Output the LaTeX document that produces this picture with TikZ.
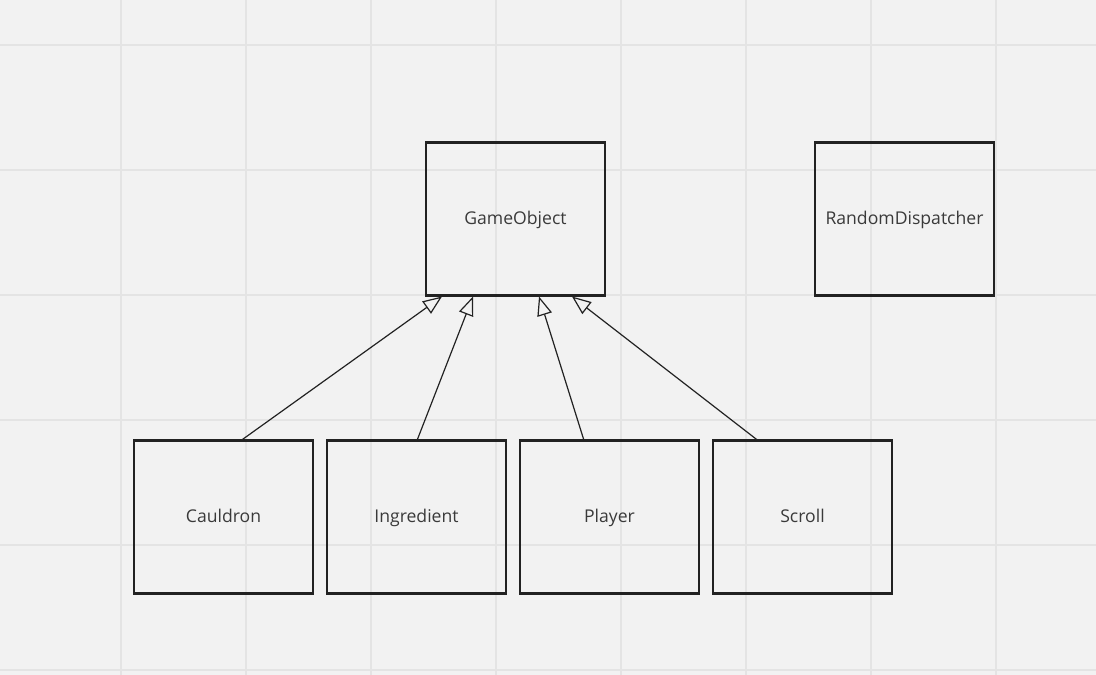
\documentclass[tikz,border=0pt]{standalone}
\usepackage{fontspec}
\setmainfont{Open Sans}
\usetikzlibrary{arrows.meta}
\definecolor{bg}{HTML}{F2F2F2}
\definecolor{gridc}{HTML}{E4E4E4}
\definecolor{boxc}{HTML}{222222}
\definecolor{txt}{HTML}{3A3A3A}
\tikzset{
  cls/.style={draw=boxc, line width=2.7pt, minimum width=179pt, minimum height=153pt, inner sep=0pt, outer sep=0pt, text=txt, font=\fontsize{17.6}{20}\selectfont, text height=10.5pt, text depth=0pt, anchor=north west},
  inh/.style={draw=boxc, line width=1.2pt, -{Triangle[open, length=19pt, width=15pt, fill=bg]}},
  gridl/.style={draw=gridc, line width=1.8pt}
}
\begin{document}
\begin{tikzpicture}[x=1pt,y=-1pt]
\fill[bg] (0,0) rectangle (1096,675);
\useasboundingbox (0,0) rectangle (1096,675);
\foreach \gx in {121,246,371,496,621,746,871,996} \draw[gridl] (\gx,0) -- (\gx,675);
\foreach \gy in {45,170,295,420,545,670} \draw[gridl] (0,\gy) -- (1096,\gy);

\node[cls] (go) at (426,142.5) {GameObject};
\node[cls] (rd) at (815,142.5) {RandomDispatcher};
\node[cls] (cauldron) at (134,440.5) {Cauldron};
\node[cls] (ingredient) at (327,440.5) {Ingredient};
\node[cls] (player) at (520,440.5) {Player};
\node[cls] (scroll) at (713,440.5) {Scroll};

\draw[inh] ([xshift=107pt]cauldron.north west) -- ([xshift=16pt,yshift=-1pt]go.south west);
\draw[inh] ([xshift=90pt]ingredient.north west) -- ([xshift=47pt,yshift=-1pt]go.south west);
\draw[inh] ([xshift=64pt]player.north west) -- ([xshift=113pt,yshift=-1pt]go.south west);
\draw[inh] ([xshift=45pt]scroll.north west) -- ([xshift=146pt,yshift=-1pt]go.south west);
\end{tikzpicture}
\end{document}
